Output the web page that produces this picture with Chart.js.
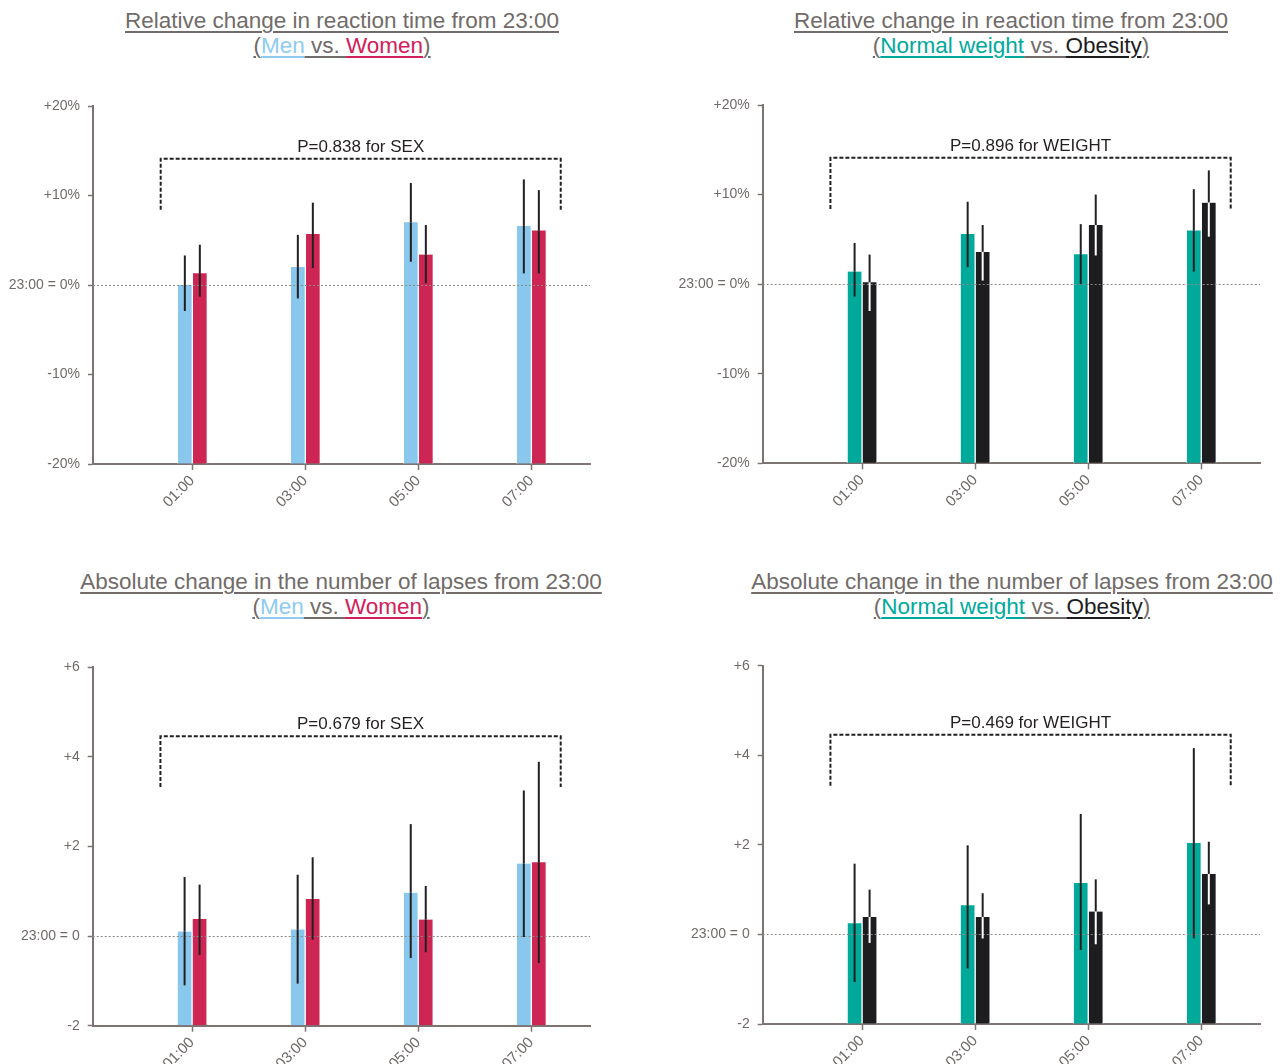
<!DOCTYPE html>
<html><head><meta charset="utf-8">
<script src="https://cdn.jsdelivr.net/npm/chart.js@4.4.1/dist/chart.umd.min.js"></script>
<style>
body{margin:0;background:#fff;width:1282px;height:1064px;position:relative;overflow:hidden;font-family:"Liberation Sans",Arial,sans-serif;}
.ttl{position:absolute;width:640px;text-align:center;font-size:22.5px;color:#716b69;line-height:25px;white-space:nowrap;}
.ttl span{text-decoration:underline;text-underline-offset:3px;text-decoration-thickness:1.5px;}
.box{position:absolute;}
canvas{display:block;}
</style></head><body>
<div class="ttl" style="left:22px;top:8px"><span>Relative change in reaction time from 23:00</span><br><span>(</span><span style="color:#8dcbf0">Men</span><span> vs. </span><span style="color:#d2205a">Women</span><span>)</span></div>
<div class="ttl" style="left:691px;top:8px"><span>Relative change in reaction time from 23:00</span><br><span>(</span><span style="color:#00a99d">Normal weight</span><span> vs. </span><span style="color:#1d1d1f">Obesity</span><span>)</span></div>
<div class="ttl" style="left:21px;top:569px"><span>Absolute change in the number of lapses from 23:00</span><br><span>(</span><span style="color:#8dcbf0">Men</span><span> vs. </span><span style="color:#d2205a">Women</span><span>)</span></div>
<div class="ttl" style="left:692px;top:569px"><span>Absolute change in the number of lapses from 23:00</span><br><span>(</span><span style="color:#00a99d">Normal weight</span><span> vs. </span><span style="color:#1d1d1f">Obesity</span><span>)</span></div>

<div class="box" style="left:0px;top:60px"><canvas id="c1" width="640" height="500"></canvas></div>
<div class="box" style="left:670px;top:60px"><canvas id="c2" width="612" height="500"></canvas></div>
<div class="box" style="left:0px;top:620px"><canvas id="c3" width="640" height="500"></canvas></div>
<div class="box" style="left:670px;top:620px"><canvas id="c4" width="612" height="500"></canvas></div>

<script>
// ---------- data ----------
const timeLabels = ['01:00', '03:00', '05:00', '07:00'];
const timePos = [1, 2, 3, 4];

// Relative change in reaction time (%), Men vs Women
const rtMen      = [0.0, 2.0, 7.0, 6.6];
const rtMenLo    = [-2.9, -1.5, 2.6, 1.3];
const rtMenHi    = [3.3, 5.6, 11.4, 11.8];
const rtWomen    = [1.3, 5.7, 3.4, 6.1];
const rtWomenLo  = [-1.3, 1.9, 0.2, 1.3];
const rtWomenHi  = [4.5, 9.2, 6.7, 10.6];

// Relative change in reaction time (%), Normal weight vs Obesity
const rtNormal   = [1.4, 5.6, 3.35, 6.0];
const rtNormalLo = [-1.4, 1.9, 0.0, 1.4];
const rtNormalHi = [4.6, 9.2, 6.7, 10.6];
const rtObese    = [0.2, 3.6, 6.6, 9.1];
const rtObeseLo  = [-3.0, 0.4, 3.2, 5.3];
const rtObeseHi  = [3.3, 6.6, 10.0, 12.7];

// Absolute change in number of lapses, Men vs Women
const lpMen      = [0.10, 0.15, 0.97, 1.62];
const lpMenLo    = [-1.10, -1.06, -0.49, -0.02];
const lpMenHi    = [1.32, 1.37, 2.50, 3.25];
const lpWomen    = [0.38, 0.83, 0.37, 1.65];
const lpWomenLo  = [-0.42, -0.08, -0.36, -0.60];
const lpWomenHi  = [1.15, 1.76, 1.12, 3.89];

// Absolute change in number of lapses, Normal weight vs Obesity
const lpNormal   = [0.25, 0.65, 1.15, 2.04];
const lpNormalLo = [-1.06, -0.76, -0.35, -0.09];
const lpNormalHi = [1.58, 1.99, 2.69, 4.16];
const lpObese    = [0.39, 0.39, 0.51, 1.35];
const lpObeseLo  = [-0.19, -0.09, -0.22, 0.67];
const lpObeseHi  = [1.00, 0.92, 1.23, 2.07];

const rtTicks = [-20, -10, 0, 10, 20];
const rtTickLabels = ['-20%', '-10%', '23:00 = 0%', '+10%', '+20%'];
const lpTicks = [-2, 0, 2, 4, 6];
const lpTickLabels = ['-2', '23:00 = 0', '+2', '+4', '+6'];

const pTexts = ['P=0.838 for SEX', 'P=0.896 for WEIGHT', 'P=0.679 for SEX', 'P=0.469 for WEIGHT'];

// ---------- styles ----------
const FONT = '"Liberation Sans", Arial, sans-serif';
const INK = '#231f20', AXIS = '#7b7472', TXT = '#6f6a68';
const C_MEN = '#89c7ec', C_WOMEN = '#cd2654', C_NORMAL = '#00a99a', C_OBESE = '#1d1d1f';
const X_MIN = 0.121, X_MAX = 4.519;

const errorBars = {
  id: 'errorBars',
  afterDatasetsDraw(chart) {
    const {ctx, scales: {x, y}, chartArea} = chart;
    ctx.save();
    ctx.strokeStyle = '#8a8a8a'; ctx.lineWidth = 1; ctx.setLineDash([2, 2]);
    const y0 = Math.round(y.getPixelForValue(0)) + 0.5;
    ctx.beginPath(); ctx.moveTo(chartArea.left, y0); ctx.lineTo(chartArea.right, y0); ctx.stroke();
    ctx.setLineDash([]);
    ctx.lineWidth = 2;
    chart.data.datasets.forEach((ds, d) => {
      const meta = chart.getDatasetMeta(d);
      meta.data.forEach((bar, i) => {
        const yTop = y.getPixelForValue(ds.data[i].y);
        const yHi = y.getPixelForValue(ds.errHi[i]);
        const yLo = y.getPixelForValue(ds.errLo[i]);
        ctx.strokeStyle = INK;
        ctx.beginPath(); ctx.moveTo(bar.x, yHi); ctx.lineTo(bar.x, yTop); ctx.stroke();
        ctx.strokeStyle = ds.errInner;
        ctx.beginPath(); ctx.moveTo(bar.x, yTop); ctx.lineTo(bar.x, yLo); ctx.stroke();
      });
    });
    ctx.restore();
  }
};

const bracket = {
  id: 'bracket',
  afterDraw(chart, args, o) {
    const {ctx, scales: {x, y}} = chart;
    const xl = x.getPixelForValue(o.x0), xr = x.getPixelForValue(o.x1);
    const yt = y.getPixelForValue(o.yTop), yb = y.getPixelForValue(o.yBottom);
    ctx.save();
    ctx.strokeStyle = INK; ctx.lineWidth = 2; ctx.setLineDash([4, 2]);
    ctx.beginPath(); ctx.moveTo(xl, yb); ctx.lineTo(xl, yt); ctx.lineTo(xr, yt); ctx.lineTo(xr, yb); ctx.stroke();
    ctx.setLineDash([]);
    ctx.fillStyle = INK; ctx.font = '17px ' + FONT;
    ctx.textAlign = 'center'; ctx.textBaseline = 'bottom';
    ctx.fillText(o.text, (xl + xr) / 2, yt - 3);
    ctx.restore();
  }
};

function ds(vals, lo, hi, color, inner, base) {
  return {
    data: timePos.map((x, i) => ({x: x, y: vals[i]})),
    backgroundColor: color, borderColor: '#ffffff',
    borderWidth: {left: 1, right: 1, top: 0, bottom: 0},
    barThickness: 15, base: base,
    errLo: lo, errHi: hi, errInner: inner
  };
}

function makeChart(id, datasets, yTicks, yLabels, g, br) {
  new Chart(document.getElementById(id), {
    type: 'bar',
    data: {datasets: datasets},
    plugins: [errorBars, bracket],
    options: {
      responsive: false, animation: false,
      layout: {padding: {left: 0, top: g.padTop, right: g.padRight, bottom: 0}},
      plugins: {legend: {display: false}, tooltip: {enabled: false}, bracket: br},
      scales: {
        x: {
          type: 'linear', min: X_MIN, max: X_MAX, offset: false,
          afterBuildTicks: s => { s.ticks = timePos.map(v => ({value: v})); },
          afterFit: s => { s.height = g.xAxisH; },
          ticks: {callback: (v, i) => timeLabels[i], minRotation: 45, maxRotation: 45, autoSkip: false,
                  color: TXT, font: {size: 15, family: FONT}, padding: 2},
          grid: {offset: false, drawOnChartArea: false, drawTicks: true, tickLength: 6, tickColor: AXIS, tickWidth: 1.5},
          border: {color: AXIS, width: 2}
        },
        y: {
          min: yTicks[0], max: yTicks[yTicks.length - 1],
          afterBuildTicks: s => { s.ticks = yTicks.map(v => ({value: v})); },
          afterFit: s => { s.width = g.axisW; },
          ticks: {callback: (v, i) => yLabels[i], color: TXT, font: {size: 14, family: FONT}, padding: 8},
          grid: {drawOnChartArea: false, drawTicks: true, tickLength: 5, tickColor: AXIS, tickWidth: 1.5},
          border: {color: AXIS, width: 2}
        }
      }
    }
  });
}

makeChart('c1', [
  ds(rtMen, rtMenLo, rtMenHi, C_MEN, INK, -20),
  ds(rtWomen, rtWomenLo, rtWomenHi, C_WOMEN, INK, -20)
], rtTicks, rtTickLabels, {padTop: 46, padRight: 50, axisW: 93, xAxisH: 96},
  {x0: 0.72, x1: 4.26, yTop: 14.1, yBottom: 8.4, text: pTexts[0]});

makeChart('c2', [
  ds(rtNormal, rtNormalLo, rtNormalHi, C_NORMAL, INK, -20),
  ds(rtObese, rtObeseLo, rtObeseHi, C_OBESE, '#ffffff', -20)
], rtTicks, rtTickLabels, {padTop: 45, padRight: 22, axisW: 92.7, xAxisH: 96.7},
  {x0: 0.72, x1: 4.26, yTop: 14.1, yBottom: 8.4, text: pTexts[1]});

makeChart('c3', [
  ds(lpMen, lpMenLo, lpMenHi, C_MEN, INK, -2),
  ds(lpWomen, lpWomenLo, lpWomenHi, C_WOMEN, INK, -2)
], lpTicks, lpTickLabels, {padTop: 47.3, padRight: 50, axisW: 92.7, xAxisH: 94.3},
  {x0: 0.72, x1: 4.26, yTop: 4.46, yBottom: 3.33, text: pTexts[2]});

makeChart('c4', [
  ds(lpNormal, lpNormalLo, lpNormalHi, C_NORMAL, INK, -2),
  ds(lpObese, lpObeseLo, lpObeseHi, C_OBESE, '#ffffff', -2)
], lpTicks, lpTickLabels, {padTop: 45.7, padRight: 22, axisW: 92.7, xAxisH: 96},
  {x0: 0.72, x1: 4.26, yTop: 4.46, yBottom: 3.32, text: pTexts[3]});
</script>
</body></html>
